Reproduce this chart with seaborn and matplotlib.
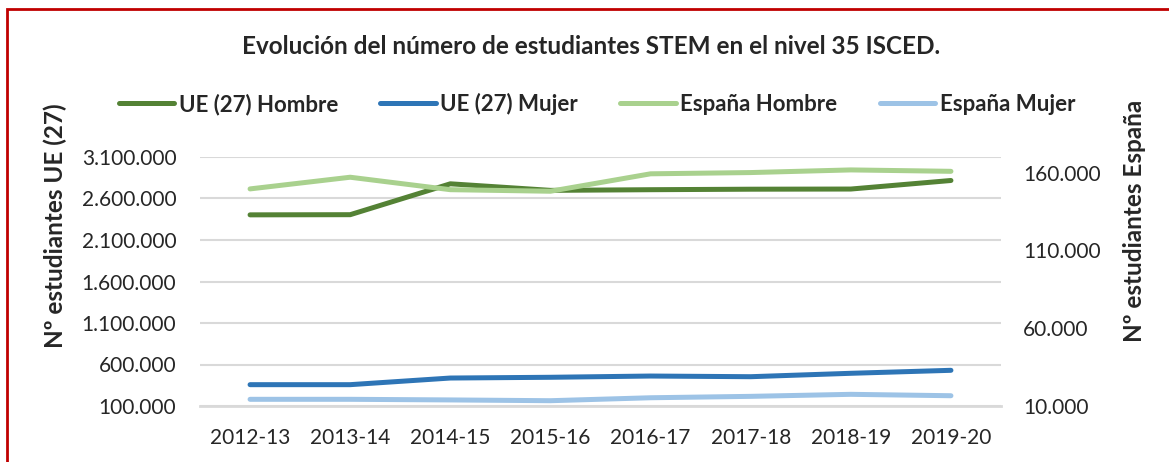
import pandas as pd
import matplotlib.pyplot as plt
import seaborn as sns
from matplotlib.patches import Rectangle
from matplotlib.ticker import FuncFormatter

sns.set_style("white")
plt.rcParams['font.family'] = ['Lato', 'DejaVu Sans']

# === Data ===
cursos = ['2012-13', '2013-14', '2014-15', '2015-16', '2016-17', '2017-18', '2018-19', '2019-20']
ue_hombre = [2403000, 2405000, 2777000, 2698000, 2706000, 2712000, 2714000, 2817000]
ue_mujer = [357000, 357000, 437000, 446000, 461000, 453000, 494000, 530000]
es_hombre = [149500, 157000, 149000, 148000, 159200, 160000, 161700, 160800]
es_mujer = [14300, 14300, 13900, 13400, 15300, 16200, 17500, 16600]

df = pd.DataFrame({'curso': cursos, 'ue_h': ue_hombre, 'ue_m': ue_mujer,
                   'es_h': es_hombre, 'es_m': es_mujer})

c_ue_h, c_ue_m = '#548235', '#2E75B6'
c_es_h, c_es_m = '#A9D18E', '#9DC3E6'
lw = 3.6

fig = plt.figure(figsize=(11.69, 4.62), dpi=100)
ax = fig.add_axes([200 / 1169, 1 - 406 / 462, 801 / 1169, 249 / 462])
ax2 = ax.twinx()

sns.lineplot(data=df, x='curso', y='ue_h', ax=ax, color=c_ue_h, lw=lw, label='UE (27) Hombre', legend=False, solid_capstyle='round')
sns.lineplot(data=df, x='curso', y='ue_m', ax=ax, color=c_ue_m, lw=lw, label='UE (27) Mujer', legend=False, solid_capstyle='round')
sns.lineplot(data=df, x='curso', y='es_h', ax=ax2, color=c_es_h, lw=lw, label='España Hombre', legend=False)
sns.lineplot(data=df, x='curso', y='es_m', ax=ax2, color=c_es_m, lw=lw, label='España Mujer', legend=False)

# thousands separator with dots, Spanish style
fmt = FuncFormatter(lambda v, p: f'{int(round(v)):,}'.replace(',', '.'))

ax.set_xlim(-0.5, 7.5)
ax.set_ylim(100000, 3100000)
ax.set_yticks(range(100000, 3100001, 500000))
ax.yaxis.set_major_formatter(fmt)
ax2.set_ylim(10000, 170000)
ax2.set_yticks([10000, 60000, 110000, 160000])
ax2.yaxis.set_major_formatter(fmt)

ax.grid(axis='y', color='#D9D9D9', lw=1.5)
ax.set_axisbelow(True)
for a in (ax, ax2):
    for s in a.spines.values():
        s.set_visible(False)
    a.set_xlabel('')
    a.set_ylabel('')
ax.spines['bottom'].set_visible(True)
ax.spines['bottom'].set_color('#D9D9D9')
ax.spines['bottom'].set_linewidth(2)

ax.tick_params(axis='y', length=0, pad=17, labelsize=15)
ax.tick_params(axis='x', length=0, pad=16, labelsize=15)
ax2.tick_params(axis='y', length=0, pad=16, labelsize=15)

fig.text(591 / 1169, 1 - 47 / 462, 'Evolución del número de estudiantes STEM en el nivel 35 ISCED.',
         ha='center', va='center', fontsize=17.5, fontweight='bold')
fig.text(55 / 1169, 1 - 226 / 462, 'Nº estudiantes UE (27)', rotation=90,
         ha='center', va='center', fontsize=17.5, fontweight='bold')
fig.text(1135 / 1169, 1 - 221 / 462, 'Nº estudiantes España', rotation=90,
         ha='center', va='center', fontsize=17.5, fontweight='bold')

h1, l1 = ax.get_legend_handles_labels()
h2, l2 = ax2.get_legend_handles_labels()
fig.legend(h1 + h2, l1 + l2, ncol=4, loc='center', bbox_to_anchor=(597 / 1169, 1 - 104 / 462),
           frameon=False, prop={'weight': 'bold', 'size': 16}, handlelength=2.5,
           handletextpad=0.2, columnspacing=1.9)

fig.patches.append(Rectangle((7 / 1169, -0.1), 1.1, 1.1 - 9 / 462, transform=fig.transFigure,
                             fill=False, edgecolor='#C00000', lw=2))

fig.savefig('out.png', dpi=100)
